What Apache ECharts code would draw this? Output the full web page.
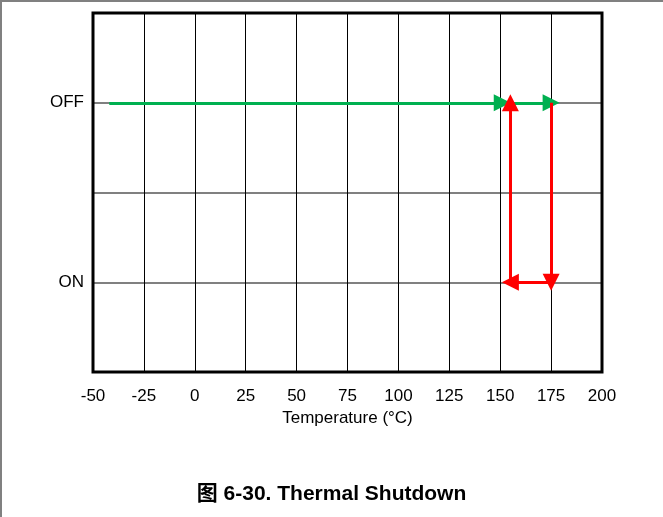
<!DOCTYPE html>
<html>
<head>
<meta charset="utf-8">
<script src="https://cdn.jsdelivr.net/npm/echarts@6/dist/echarts.min.js"></script>
<style>
  html, body { margin: 0; padding: 0; background: #fff; }
  #chart { width: 663px; height: 517px; }
</style>
</head>
<body>
<div id="chart"></div>
<script>
// 坐标轴刻度
const xTicks = [-50, -25, 0, 25, 50, 75, 100, 125, 150, 175, 200];
const stateLevels = { ON: 1, OFF: 3 };

// 绿色：升温至关断 (OFF 状态下的温度路径)
const greenSegments = [
    [[-42, 3], [151, 3]],
    [[151, 3], [175, 3]]
];

// 红色：关断/恢复的迟滞回线
const redSegments = [
    [[155, 1], [155, 3]],
    [[175, 3], [175, 1]],
    [[175, 1], [155, 1]]
];

const GRID = { left: 93, right: 61, top: 13, bottom: 145 };

const chart = echarts.init(document.getElementById('chart'));

function toLines(segs) {
    return segs.map(s => ({ coords: s }));
}

chart.setOption({
    animation: false,
    title: {
        text: '图 6-30. Thermal Shutdown',
        left: 'center',
        top: 479,
        textStyle: {
            fontFamily: 'Liberation Sans, Arial, Noto Sans CJK SC',
            fontSize: 21,
            fontWeight: 'bold',
            color: '#000'
        }
    },
    grid: Object.assign({ show: false, containLabel: false }, GRID),
    xAxis: {
        type: 'value',
        min: xTicks[0],
        max: xTicks[xTicks.length - 1],
        interval: 25,
        name: 'Temperature (°C)',
        nameLocation: 'middle',
        nameGap: 37,
        nameTextStyle: { fontFamily: 'Liberation Sans, Arial', fontSize: 17, color: '#000' },
        axisLine: { show: false },
        axisTick: { show: false },
        axisLabel: { fontFamily: 'Liberation Sans, Arial', fontSize: 17, color: '#000', margin: 16 },
        splitLine: { show: true, showMinLine: false, showMaxLine: false, lineStyle: { color: '#000', width: 1 } }
    },
    yAxis: {
        type: 'value',
        min: 0,
        max: 4,
        interval: 1,
        axisLine: { show: false },
        axisTick: { show: true, length: 4, lineStyle: { color: '#808080', width: 2 } },
        axisLabel: {
            fontFamily: 'Liberation Sans, Arial',
            fontSize: 17,
            color: '#000',
            margin: 9,
            formatter: v => v === stateLevels.OFF ? 'OFF' : (v === stateLevels.ON ? 'ON' : '')
        },
        splitLine: { show: true, showMinLine: false, showMaxLine: false, lineStyle: { color: '#808080', width: 2 } }
    },
    series: [
        {
            type: 'lines',
            coordinateSystem: 'cartesian2d',
            symbol: ['none', 'triangle'],
            symbolSize: [0, 17],
            lineStyle: { color: '#00b050', width: 3, opacity: 1, curveness: 0 },
            data: toLines(greenSegments),
            z: 3
        },
        {
            type: 'lines',
            coordinateSystem: 'cartesian2d',
            symbol: ['none', 'triangle'],
            symbolSize: [0, 17],
            lineStyle: { color: '#ff0000', width: 3, opacity: 1, curveness: 0 },
            data: toLines(redSegments),
            z: 4
        }
    ],
    graphic: [
        // 绘图区外框
        {
            type: 'rect', z: 10,
            shape: { x: GRID.left, y: GRID.top, width: 663 - GRID.left - GRID.right, height: 517 - GRID.top - GRID.bottom },
            style: { fill: null, stroke: '#000', lineWidth: 3 }
        },
        // 页面边框
        { type: 'line', shape: { x1: 1, y1: 0, x2: 1, y2: 517 }, style: { stroke: '#808080', lineWidth: 2 } },
        { type: 'line', shape: { x1: 0, y1: 1, x2: 663, y2: 1 }, style: { stroke: '#808080', lineWidth: 2 } }
    ]
});
</script>
</body>
</html>
